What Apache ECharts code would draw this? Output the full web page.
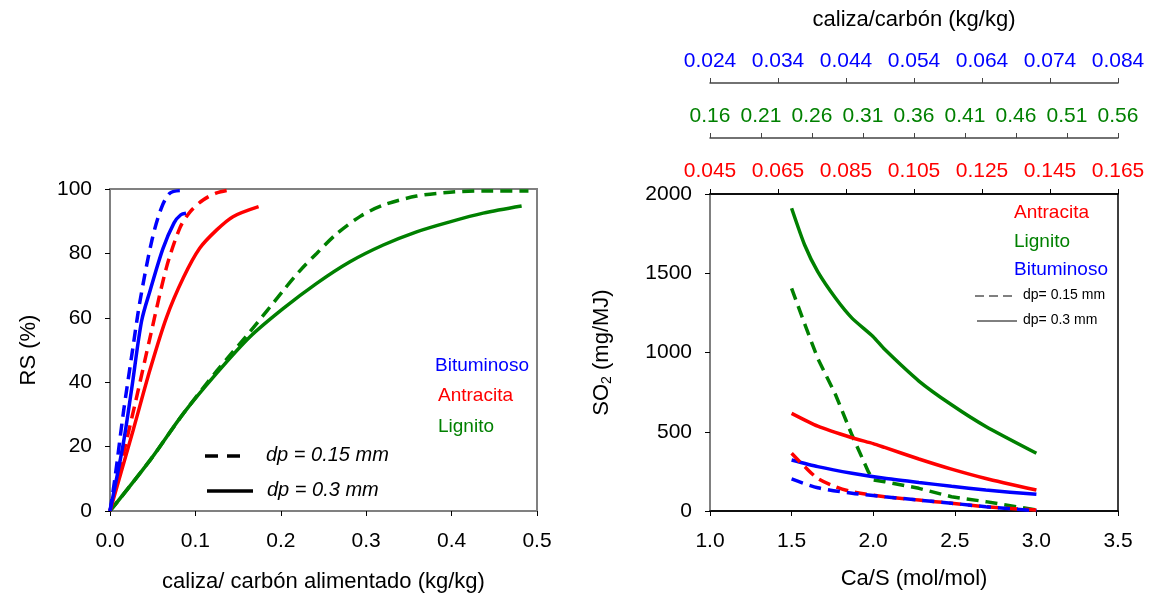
<!DOCTYPE html>
<html>
<head>
<meta charset="utf-8">
<script src="https://cdn.jsdelivr.net/npm/echarts@6/dist/echarts.min.js"></script>
<style>html,body{margin:0;padding:0;background:#fff}#c{width:1151px;height:597px}</style>
</head>
<body>
<div id="c"></div>
<script>
// ---------- Left chart: RS (%) vs caliza/carbón alimentado ----------
var bitDashX = [0, 0.006, 0.0156, 0.027, 0.035, 0.049, 0.060, 0.070, 0.082];
var bitDashY = [0, 10.6, 30.4, 51, 65, 84, 94, 98.7, 99.5];
var bitSolX  = [0, 0.0156, 0.0254, 0.037, 0.047, 0.062, 0.075, 0.083, 0.089];
var bitSolY  = [0, 21, 38, 59, 68.5, 81.5, 89.5, 92, 92.5];
var antDashX = [0, 0.015, 0.030, 0.047, 0.066, 0.082, 0.094, 0.109, 0.125, 0.142];
var antDashY = [0, 17, 34, 54, 75.5, 88, 93, 96.6, 98.8, 99.8];
var antSolX  = [0, 0.027, 0.047, 0.066, 0.086, 0.105, 0.125, 0.144, 0.174];
var antSolY  = [0, 25, 44, 60, 72.5, 81.6, 87.3, 91.4, 94.5];
var ligDashX = [0, 0.047, 0.086, 0.125, 0.164, 0.203, 0.222, 0.242, 0.265, 0.293, 0.320, 0.359, 0.398, 0.437, 0.49];
var ligDashY = [0, 15.8, 30.3, 43.5, 55.7, 68.5, 74.5, 80, 86, 91.5, 95, 97.8, 99, 99.4, 99.4];
var ligSolX  = [0, 0.047, 0.086, 0.125, 0.164, 0.203, 0.242, 0.281, 0.320, 0.359, 0.398, 0.437, 0.482];
var ligSolY  = [0, 15.8, 30.3, 42.8, 54.1, 62.9, 70.7, 77.4, 82.6, 86.7, 89.8, 92.5, 94.7];

// ---------- Right chart: SO2 vs Ca/S ----------
var rLigSolX  = [1.5, 1.58, 1.66, 1.77, 1.87, 2.0, 2.07, 2.28, 2.48, 2.69, 3.0];
var rLigSolY  = [1910, 1678, 1510, 1342, 1217, 1100, 1020, 820, 670, 533, 364];
var rLigDashX = [1.5, 1.58, 1.66, 1.77, 1.87, 1.97, 2.0, 2.07, 2.28, 2.48, 2.69, 3.0];
var rLigDashY = [1405, 1180, 963, 732, 479, 248, 196, 185, 143, 90, 59, 6];
var rAntSolX  = [1.5, 1.66, 1.87, 2.0, 2.07, 2.28, 2.48, 2.69, 3.0];
var rAntSolY  = [616, 535, 462, 425, 401, 328, 264, 205, 132];
var rBitSolX  = [1.5, 1.66, 1.87, 2.07, 2.28, 2.48, 2.69, 3.0];
var rBitSolY  = [322, 280, 238, 206, 180, 156, 132, 105];
var rAntDashX = [1.5, 1.58, 1.66, 1.77, 1.87, 2.07, 2.28, 2.48, 2.69, 3.0];
var rAntDashY = [364, 280, 206, 153, 122, 90, 69, 49, 27, 6];
var rBitDashX = [1.5, 1.66, 1.87, 2.07, 2.28, 2.48, 2.69, 3.0];
var rBitDashY = [202, 147, 112, 90, 69, 49, 27, 2];

// ---------- Top secondary axes tick labels ----------
var blueTicks  = ['0.024', '0.034', '0.044', '0.054', '0.064', '0.074', '0.084'];
var greenTicks = ['0.16', '0.21', '0.26', '0.31', '0.36', '0.41', '0.46', '0.51', '0.56'];
var redTicks   = ['0.045', '0.065', '0.085', '0.105', '0.125', '0.145', '0.165'];

var BLUE = '#0000ff', RED = '#ff0000', GREEN = '#008000';
var FONT = 'Liberation Sans, Arial, sans-serif';

function pairs(xs, ys) { return xs.map(function (x, i) { return [x, ys[i]]; }); }
function line(name, xs, ys, color, dashed, xi, yi, smooth) {
  return {
    name: name, type: 'line', xAxisIndex: xi, yAxisIndex: yi,
    data: pairs(xs, ys), symbol: 'none', smooth: smooth, silent: true,
    lineStyle: { color: color, width: 3.5, type: dashed ? [12, 7] : 'solid', cap: 'butt' }
  };
}

var gray = '#808080';
var chart = echarts.init(document.getElementById('c'));
chart.setOption({
  animation: false,
  backgroundColor: '#fff',
  textStyle: { fontFamily: FONT },
  grid: [
    { left: 110, top: 189, width: 427, height: 322, containLabel: false, outerBoundsMode: 'none',
      show: true, borderColor: gray, borderWidth: 2, backgroundColor: 'transparent' },
    { left: 710, top: 194, width: 408, height: 317, containLabel: false, outerBoundsMode: 'none',
      show: true, borderColor: '#000', borderWidth: 1.5, backgroundColor: 'transparent' }
  ],
  xAxis: [
    { type: 'value', gridIndex: 0, min: 0, max: 0.5, interval: 0.1, position: 'bottom',
      name: 'caliza/ carbón alimentado (kg/kg)', nameLocation: 'middle', nameGap: 60,
      nameTextStyle: { fontSize: 22, color: '#000', fontFamily: FONT },
      axisLine: { lineStyle: { color: gray, width: 2 } },
      axisTick: { show: true, length: 5, lineStyle: { color: '#000', width: 1 } },
      axisLabel: { fontSize: 21, color: '#000', margin: 20, fontFamily: FONT, formatter: function (v) { return v.toFixed(1); } },
      splitLine: { show: false } },
    { type: 'value', gridIndex: 1, min: 1.0, max: 3.5, interval: 0.5, position: 'bottom',
      name: 'Ca/S (mol/mol)', nameLocation: 'middle', nameGap: 57,
      nameTextStyle: { fontSize: 22, color: '#000', fontFamily: FONT },
      axisLine: { lineStyle: { color: '#000', width: 1.5 } },
      axisTick: { show: true, length: 5, lineStyle: { color: '#000', width: 1 } },
      axisLabel: { fontSize: 21, color: '#000', margin: 20, fontFamily: FONT, formatter: function (v) { return v.toFixed(1); } },
      splitLine: { show: false } },
    { type: 'category', gridIndex: 1, position: 'top', offset: 0, boundaryGap: false, data: redTicks,
      axisLine: { lineStyle: { color: '#000', width: 1.5 } },
      axisTick: { show: true, length: 5, interval: 0, lineStyle: { color: '#000' } },
      axisLabel: { fontSize: 21, color: RED, margin: 12, interval: 0, fontFamily: FONT },
      splitLine: { show: false } },
    { type: 'category', gridIndex: 1, position: 'top', offset: 56, boundaryGap: false, data: greenTicks,
      axisLine: { lineStyle: { color: '#444', width: 1.5 } },
      axisTick: { show: true, length: 5, interval: 0, lineStyle: { color: '#444' } },
      axisLabel: { fontSize: 21, color: GREEN, margin: 11, interval: 0, fontFamily: FONT },
      splitLine: { show: false } },
    { type: 'category', gridIndex: 1, position: 'top', offset: 111, boundaryGap: false, data: blueTicks,
      name: 'caliza/carbón (kg/kg)', nameLocation: 'middle', nameGap: 52,
      nameTextStyle: { fontSize: 22, color: '#000', fontFamily: FONT },
      axisLine: { lineStyle: { color: '#444', width: 1.5 } },
      axisTick: { show: true, length: 5, interval: 0, lineStyle: { color: '#444' } },
      axisLabel: { fontSize: 21, color: BLUE, margin: 11, interval: 0, fontFamily: FONT },
      splitLine: { show: false } }
  ],
  yAxis: [
    { type: 'value', gridIndex: 0, min: 0, max: 100, interval: 20,
      name: 'RS (%)', nameLocation: 'middle', nameGap: 70,
      nameTextStyle: { fontSize: 22, color: '#000', fontFamily: FONT },
      axisLine: { show: true, lineStyle: { color: gray, width: 2 } },
      axisTick: { show: true, length: 5, lineStyle: { color: '#000', width: 1 } },
      axisLabel: { fontSize: 21, color: '#000', margin: 18, fontFamily: FONT },
      splitLine: { show: false } },
    { type: 'value', gridIndex: 1, min: 0, max: 2000, interval: 500,
      name: 'SO{sub|2} (mg/MJ)', nameLocation: 'middle', nameGap: 96,
      nameTextStyle: { fontSize: 22, color: '#000', fontFamily: FONT,
        rich: { sub: { fontSize: 14, color: '#000', fontFamily: FONT, verticalAlign: 'bottom', padding: [10, 0, 0, 0] } } },
      axisLine: { show: true, lineStyle: { color: gray, width: 2 } },
      axisTick: { show: true, length: 5, lineStyle: { color: '#000', width: 1 } },
      axisLabel: { fontSize: 21, color: '#000', margin: 18, fontFamily: FONT, formatter: function (v) { return String(v); } },
      splitLine: { show: false } }
  ],
  series: [
    line('Lignito dp=0.3', ligSolX, ligSolY, GREEN, false, 0, 0, 0.3),
    line('Lignito dp=0.15', ligDashX, ligDashY, GREEN, true, 0, 0, 0.3),
    line('Antracita dp=0.3', antSolX, antSolY, RED, false, 0, 0, 0.3),
    line('Antracita dp=0.15', antDashX, antDashY, RED, true, 0, 0, 0.3),
    line('Bituminoso dp=0.3', bitSolX, bitSolY, BLUE, false, 0, 0, 0.3),
    line('Bituminoso dp=0.15', bitDashX, bitDashY, BLUE, true, 0, 0, 0.3),

    line('Lignito dp=0.3 R', rLigSolX, rLigSolY, GREEN, false, 1, 1, 0.2),
    line('Lignito dp=0.15 R', rLigDashX, rLigDashY, GREEN, true, 1, 1, 0),
    line('Antracita dp=0.3 R', rAntSolX, rAntSolY, RED, false, 1, 1, 0.2),
    line('Bituminoso dp=0.3 R', rBitSolX, rBitSolY, BLUE, false, 1, 1, 0.2),
    line('Antracita dp=0.15 R', rAntDashX, rAntDashY, RED, true, 1, 1, 0.3),
    line('Bituminoso dp=0.15 R', rBitDashX, rBitDashY, BLUE, true, 1, 1, 0.3)
  ],
  graphic: [
    // left legend
    { type: 'text', left: 435, top: 356, style: { text: 'Bituminoso', fill: BLUE, font: '19px ' + FONT } },
    { type: 'text', left: 438, top: 386, style: { text: 'Antracita', fill: RED, font: '19px ' + FONT } },
    { type: 'text', left: 438, top: 417, style: { text: 'Lignito', fill: GREEN, font: '19px ' + FONT } },
    { type: 'line', shape: { x1: 205, y1: 456, x2: 244, y2: 456 }, style: { stroke: '#000', lineWidth: 3.5, lineDash: [13, 9] } },
    { type: 'text', left: 266, top: 445, style: { text: 'dp = 0.15 mm', fill: '#000', font: 'italic 20px ' + FONT } },
    { type: 'line', shape: { x1: 207, y1: 491, x2: 253, y2: 491 }, style: { stroke: '#000', lineWidth: 3.5 } },
    { type: 'text', left: 267, top: 480, style: { text: 'dp = 0.3 mm', fill: '#000', font: 'italic 20px ' + FONT } },
    // right legend
    { type: 'text', left: 1014, top: 203, style: { text: 'Antracita', fill: RED, font: '19px ' + FONT } },
    { type: 'text', left: 1014, top: 232, style: { text: 'Lignito', fill: GREEN, font: '19px ' + FONT } },
    { type: 'text', left: 1014, top: 260, style: { text: 'Bituminoso', fill: BLUE, font: '19px ' + FONT } },
    { type: 'line', shape: { x1: 975, y1: 296, x2: 1015, y2: 296 }, style: { stroke: '#000', lineWidth: 1, lineDash: [9, 5] } },
    { type: 'text', left: 1023, top: 288, style: { text: 'dp= 0.15 mm', fill: '#000', font: '14px ' + FONT } },
    { type: 'line', shape: { x1: 977, y1: 321, x2: 1017, y2: 321 }, style: { stroke: '#000', lineWidth: 1 } },
    { type: 'text', left: 1023, top: 313, style: { text: 'dp= 0.3 mm', fill: '#000', font: '14px ' + FONT } }
  ]
});
</script>
</body>
</html>
